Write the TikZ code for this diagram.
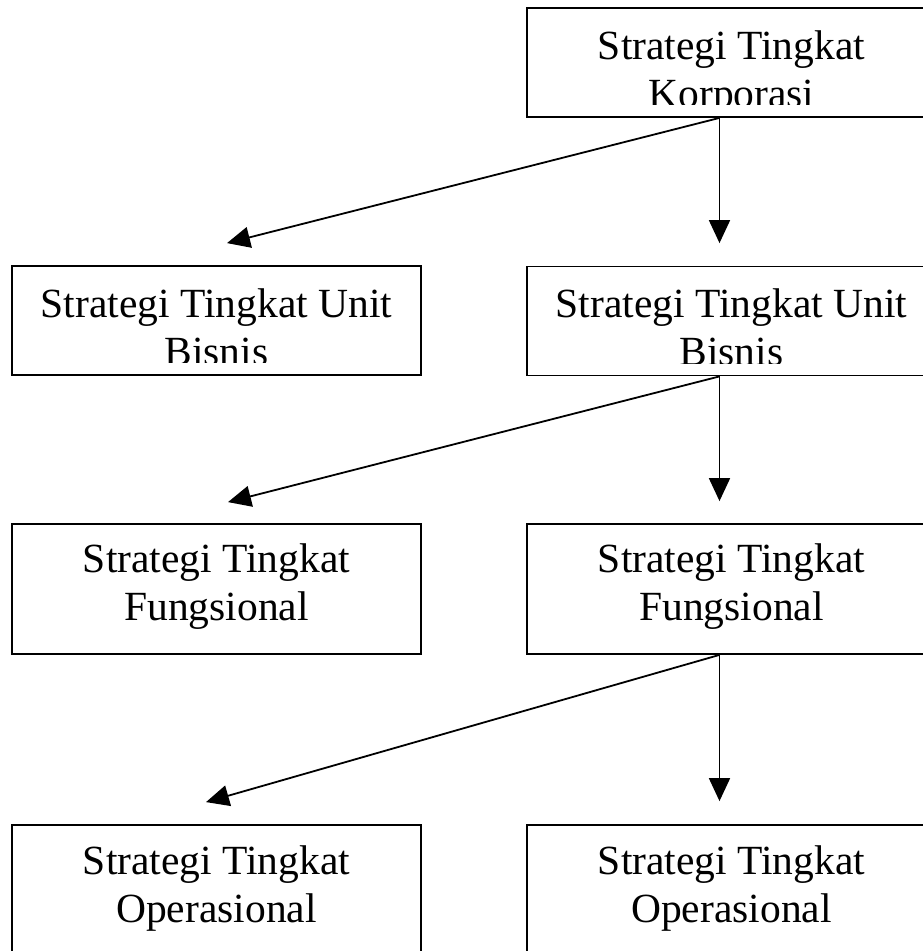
\documentclass[tikz,border=0pt]{standalone}
\usepackage{fontspec}
\setmainfont{Liberation Serif}
\usetikzlibrary{calc}
\usetikzlibrary{arrows.meta}
\tikzset{
	% styles for the boxes, their lines of text and the arrows
	level box/.style={rectangle,draw,line width=1.8pt,minimum width=409pt,inner sep=0pt},
	level text/.style={anchor=base,inner sep=0pt,font=\fontsize{41.5}{48}\selectfont},
	level arrow/.style={line width=1.8pt,-{Triangle[width=21pt,length=23pt]}}
}

\begin{document}
\begin{tikzpicture}[x=1pt,y=-1pt]
	% macro for one line of text, given its depth below the top of a box
	\newcommand{\boxline}[4]{\node(#1)[level text]at($(#2.north)+(0,#3)$){#4};}
	\useasboundingbox (0,0) rectangle (923,951);

	% boxes, one row per level
	\node(korp)[level box,minimum height=109pt]at(731.5,62.5){};
	\node(bis-1)[level box,minimum height=109pt]at(216.5,320.5){};
	\node(bis-2)[level box,minimum height=109pt]at(731.5,321){};
	\node(fung-1)[level box,minimum height=130pt]at(216.5,589){};
	\node(fung-2)[level box,minimum height=130pt]at(731.5,589){};
	\node(ops-1)[level box,minimum height=130pt]at(216.5,890){};
	\node(ops-2)[level box,minimum height=130pt]at(731.5,890){};

	% texts that overflow are cut off above the bottom of their box
	\begin{scope}
		\clip (korp.north west) rectangle ($(korp.south east)+(0,-13)$);
		\boxline{korp-a}{korp}{52}{Strategi Tingkat}
		\boxline{korp-b}{korp}{100}{Korporasi}
	\end{scope}
	\begin{scope}
		\clip (bis-1.north west) rectangle ($(bis-1.south east)+(0,-13)$);
		\boxline{bis-1-a}{bis-1}{52}{Strategi Tingkat Unit}
		\boxline{bis-1-b}{bis-1}{100}{Bisnis}
	\end{scope}
	\begin{scope}
		\clip (bis-2.north west) rectangle ($(bis-2.south east)+(0,-13)$);
		\boxline{bis-2-a}{bis-2}{52}{Strategi Tingkat Unit}
		\boxline{bis-2-b}{bis-2}{100}{Bisnis}
	\end{scope}
	\boxline{fung-1-a}{fung-1}{49}{Strategi Tingkat}
	\boxline{fung-1-b}{fung-1}{97}{Fungsional}
	\boxline{fung-2-a}{fung-2}{49}{Strategi Tingkat}
	\boxline{fung-2-b}{fung-2}{97}{Fungsional}
	\boxline{ops-1-a}{ops-1}{50}{Strategi Tingkat}
	\boxline{ops-1-b}{ops-1}{98}{Operasional}
	\boxline{ops-2-a}{ops-2}{50}{Strategi Tingkat}
	\boxline{ops-2-b}{ops-2}{98}{Operasional}

	% start and end points of the arrows
	\coordinate(korp-out)at($(korp.south)+(-12,0)$);
	\coordinate(bis-1-in)at($(bis-1.north)+(10.5,-22)$);
	\coordinate(bis-2-in)at($(bis-2.north)+(-12,-22.5)$);
	\coordinate(bis-out)at($(bis-2.south)+(-12,0)$);
	\coordinate(fung-1-in)at($(fung-1.north)+(11.5,-21)$);
	\coordinate(fung-2-in)at($(fung-2.north)+(-12,-22)$);
	\coordinate(fung-out)at($(fung-2.south)+(-12,0)$);
	\coordinate(ops-1-in)at($(ops-1.north)+(-10.5,-22)$);
	\coordinate(ops-2-in)at($(ops-2.north)+(-12,-23)$);

	\draw[level arrow](korp-out)--(bis-1-in);
	\draw[level arrow](korp-out)--(bis-2-in);
	\draw[level arrow](bis-out)--(fung-1-in);
	\draw[level arrow](bis-out)--(fung-2-in);
	\draw[level arrow](fung-out)--(ops-1-in);
	\draw[level arrow](fung-out)--(ops-2-in);
\end{tikzpicture}
\end{document}
